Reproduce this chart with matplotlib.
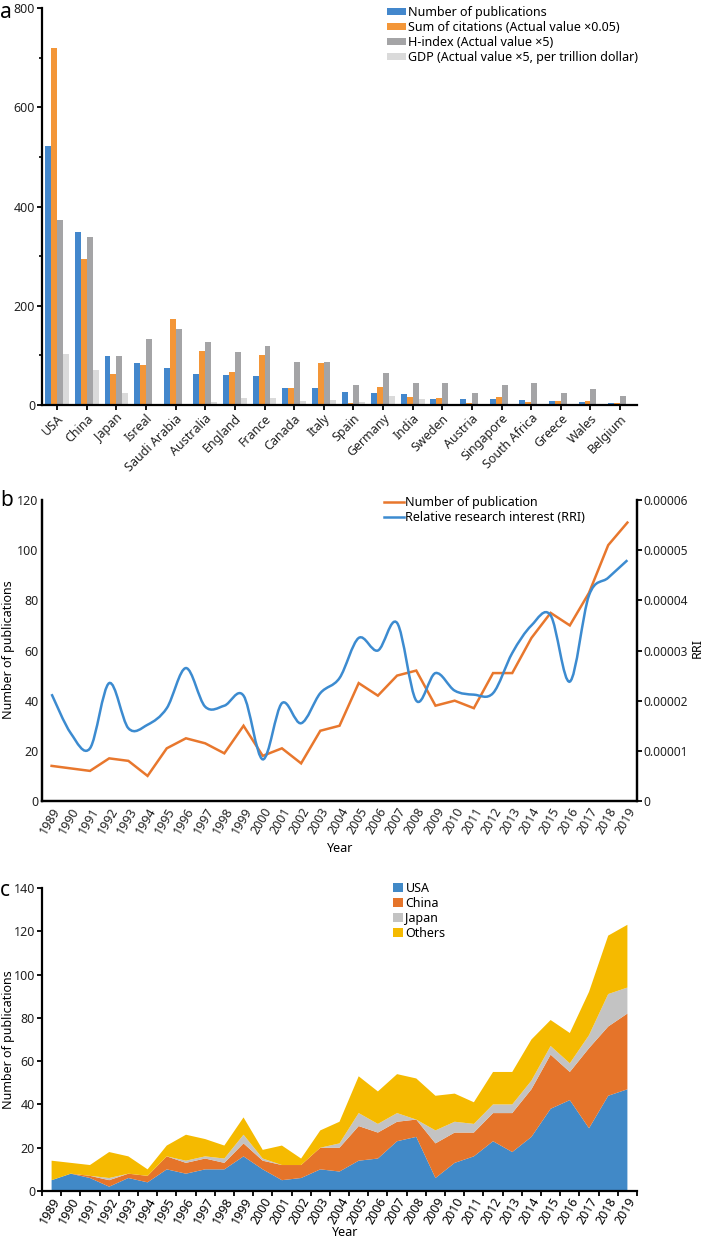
import matplotlib
matplotlib.use('Agg')
import matplotlib.pyplot as plt
import numpy as np
from matplotlib.path import Path
from matplotlib.patches import PathPatch, Patch
from matplotlib.lines import Line2D
from matplotlib.ticker import FixedLocator, FuncFormatter

plt.rcParams['font.family'] = ['Noto Sans', 'DejaVu Sans']
plt.rcParams['font.size'] = 9

# ---------------- Panel a data ----------------
countries = ['USA', 'China', 'Japan', 'Isreal', 'Saudi Arabia', 'Australia', 'England',
             'France', 'Canada', 'Italy', 'Spain', 'Germany', 'India', 'Sweden', 'Austria',
             'Singapore', 'South Africa', 'Greece', 'Wales', 'Belgium']
publications = [522, 348, 99, 84, 75, 62, 60, 58, 34, 34, 26, 25, 22, 13, 13, 12, 11, 8, 6, 4]
citations_x005 = [719, 295, 62, 80, 173, 108, 67, 101, 34, 85, 5, 36, 16, 15, 4, 17, 7, 8, 9, 4]
hindex_x5 = [372, 339, 99, 132, 153, 126, 107, 119, 87, 87, 40, 65, 45, 45, 25, 40, 45, 25, 33, 18]
gdp_x5 = [102, 71, 24, 1, 3, 7, 14, 14, 8, 10, 6, 18, 12, 0, 0, 0, 0, 0, 0, 0]
legend_a = ['Number of publications', 'Sum of citations (Actual value \u00d70.05)',
            'H-index (Actual value \u00d75)', 'GDP (Actual value \u00d75, per trillion dollar)']

# ---------------- Panel b data ----------------
years = list(range(1989, 2020))
pubs_per_year = [14, 13, 12, 17, 16, 10, 21, 25, 23, 19, 30, 18, 21, 15, 28, 30,
                 47, 42, 50, 52, 38, 40, 37, 51, 51, 65, 75, 70, 83, 102, 111]
rri = [2.13e-5, 1.35e-5, 1.05e-5, 2.35e-5, 1.45e-5, 1.52e-5, 1.85e-5, 2.65e-5, 1.88e-5,
       1.90e-5, 2.10e-5, 0.83e-5, 1.95e-5, 1.55e-5, 2.15e-5, 2.45e-5, 3.25e-5, 3.00e-5,
       3.55e-5, 2.00e-5, 2.55e-5, 2.20e-5, 2.12e-5, 2.15e-5, 2.95e-5, 3.50e-5, 3.70e-5,
       2.38e-5, 4.10e-5, 4.45e-5, 4.80e-5]

# ---------------- Panel c data ----------------
usa = [5, 8, 6, 2, 6, 4, 10, 8, 10, 10, 16, 10, 5, 6, 10, 9, 14, 15, 23, 25, 6, 13, 16,
       23, 18, 25, 38, 42, 29, 44, 47]
china = [0, 0, 1, 3, 2, 3, 6, 5, 5, 3, 6, 4, 7, 6, 10, 11, 16, 12, 9, 8, 16, 14, 11, 13,
         18, 22, 25, 13, 37, 32, 35]
japan = [0, 0, 0, 1, 0, 0, 0, 1, 1, 2, 4, 1, 0, 0, 0, 2, 6, 4, 4, 0, 6, 5, 4, 4, 4, 4,
         4, 4, 6, 15, 12]
others = [9, 5, 5, 12, 8, 3, 5, 12, 8, 6, 8, 4, 9, 3, 8, 10, 17, 15, 18, 19, 16, 13, 10,
          15, 15, 19, 12, 14, 20, 27, 29]
legend_c = ['USA', 'China', 'Japan', 'Others']

W, H = 702, 1241
fig = plt.figure(figsize=(W / 100, H / 100), dpi=100)


def rect(l, t, r, b):
    return [l / W, 1 - b / H, (r - l) / W, (b - t) / H]


def style(ax, spines=('left', 'bottom')):
    for s in ['left', 'right', 'top', 'bottom']:
        ax.spines[s].set_visible(s in spines)
        ax.spines[s].set_linewidth(1.6)
        ax.spines[s].set_color('black')
    ax.tick_params(direction='out', length=3.5, width=1.3, color='black', labelsize=9,
                   labelcolor='#222222', pad=1.5)


def ftext(x, y, s, **kw):
    return fig.text(x / W, 1 - y / H, s, **kw)


# ================= Panel a =================
axa = fig.add_axes(rect(42, 8, 637, 405))
style(axa)
x = np.arange(len(countries))
bw = 0.2
cols_a = ['#4387CC', '#F39638', '#A4A4A6', '#DADADA']
for i, vals in enumerate([publications, citations_x005, hindex_x5, gdp_x5]):
    axa.bar(x + (i - 1.5) * bw, vals, width=bw, color=cols_a[i], label=legend_a[i],
            edgecolor='none')
axa.set_xlim(-0.51, 19.57)
axa.set_ylim(0, 800)
axa.set_yticks([0, 200, 400, 600, 800])
axa.yaxis.set_minor_locator(FixedLocator([100, 300, 500, 700]))
axa.tick_params(axis='y', which='minor', length=2.5, width=1.2)
axa.set_xticks(x)
axa.set_xticklabels(countries, rotation=45, ha='right', rotation_mode='anchor')
axa.legend(loc='upper left', bbox_to_anchor=(387 / W, 1 - 6 / H),
           bbox_transform=fig.transFigure, frameon=False, fontsize=9,
           handlelength=1.5, handleheight=0.5, handletextpad=0.15,
           labelspacing=0.15, borderpad=0, borderaxespad=0)
ftext(0, 2, 'a', fontsize=15, va='top', ha='left')

# ================= Panel b =================
axb = fig.add_axes(rect(42, 500, 637, 801))
style(axb, spines=('left', 'bottom', 'right'))
axb.plot(years, pubs_per_year, color='#E8772D', lw=1.8, solid_joinstyle='miter')
axb.set_xlim(1988.5, 2019.5)
axb.set_ylim(0, 120)
axb.set_yticks(range(0, 121, 20))
axb.tick_params(axis='y', length=2, direction='inout')
axb.set_xticks(years)
axb.set_xticklabels([str(y) for y in years], rotation=60, ha='right',
                    rotation_mode='anchor')
axb.tick_params(axis='x', length=0, pad=3)
ftext(340, 848, 'Year', fontsize=9, ha='center', va='center')
ftext(9, 650, 'Number of publications', fontsize=9, ha='center', va='center', rotation=90)

axb2 = axb.twinx()
style(axb2, spines=('left', 'bottom', 'right'))
axb2.set_ylim(0, 6e-5)
axb2.yaxis.set_major_locator(FixedLocator([i * 1e-5 for i in range(7)]))
axb2.yaxis.set_major_formatter(FuncFormatter(lambda v, p: '0' if v < 1e-9 else f'{v:.5f}'))
axb2.tick_params(axis='y', labelsize=8.6, pad=1)
ftext(697, 648, 'RRI', fontsize=9, ha='center', va='center', rotation=90)

# smooth (Catmull-Rom Bezier) curve through the RRI points
px = np.array(years, dtype=float)
py = np.array(rri, dtype=float)
n = len(px)
verts = [(px[0], py[0])]
codes = [Path.MOVETO]
for i in range(n - 1):
    i0 = max(i - 1, 0)
    i3 = min(i + 2, n - 1)
    c1 = (px[i] + (px[i + 1] - px[i0]) / 6, py[i] + (py[i + 1] - py[i0]) / 6)
    c2 = (px[i + 1] - (px[i3] - px[i]) / 6, py[i + 1] - (py[i3] - py[i]) / 6)
    verts += [c1, c2, (px[i + 1], py[i + 1])]
    codes += [Path.CURVE4] * 3
axb2.add_patch(PathPatch(Path(verts, codes), fill=False, edgecolor='#3C8BD0', lw=1.8))

hb = [Line2D([], [], color='#E8772D', lw=1.8), Line2D([], [], color='#3C8BD0', lw=1.8)]
axb2.legend(hb, ['Number of publication', 'Relative research interest (RRI)'],
            loc='upper left', bbox_to_anchor=(384 / W, 1 - 496 / H),
            bbox_transform=fig.transFigure, frameon=False, fontsize=9,
            handlelength=1.6, handletextpad=0.1, labelspacing=0.15, borderpad=0,
            borderaxespad=0)
ftext(0, 490, 'b', fontsize=15, va='top', ha='left')

# ================= Panel c =================
axc = fig.add_axes(rect(42, 888, 637, 1191))
style(axc)
cols_c = ['#4189C7', '#E5742A', '#C3C3C3', '#F5BA00']
axc.stackplot(years, usa, china, japan, others, colors=cols_c, labels=legend_c, lw=0)
axc.set_xlim(1988.5, 2019.5)
axc.set_ylim(0, 140)
axc.set_yticks(range(0, 141, 20))
axc.xaxis.set_major_locator(FixedLocator([y - 0.5 for y in years] + [2019.5]))
axc.xaxis.set_major_formatter(FuncFormatter(lambda v, p: ''))
axc.set_xticks(years, minor=True)
axc.set_xticklabels([str(y) for y in years], minor=True, rotation=60, ha='right',
                    rotation_mode='anchor')
axc.tick_params(axis='x', which='minor', length=0, labelsize=9, pad=3)
ftext(345, 1233, 'Year', fontsize=9, ha='center', va='center')
ftext(9, 1040, 'Number of publications', fontsize=9, ha='center', va='center', rotation=90)
hc = [Patch(facecolor=c) for c in cols_c]
axc.legend(hc, legend_c, loc='upper left', bbox_to_anchor=(393 / W, 1 - 882 / H),
           bbox_transform=fig.transFigure, frameon=False, fontsize=9,
           handlelength=0.8, handleheight=0.8, handletextpad=0.2, labelspacing=0.15,
           borderpad=0, borderaxespad=0)
ftext(0, 880, 'c', fontsize=15, va='top', ha='left')

fig.savefig('out.png', dpi=100)
